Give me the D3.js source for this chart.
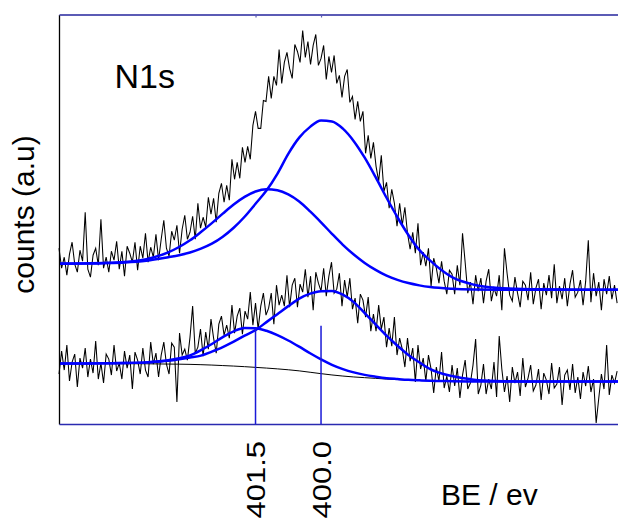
<!DOCTYPE html>
<html><head><meta charset="utf-8">
<script src="https://cdn.jsdelivr.net/npm/d3@7"></script>
<style>body{margin:0;background:#fff}svg{display:block}text{font-family:Arial,"Liberation Sans",sans-serif}</style>
</head><body><svg id="c" width="618" height="520"></svg>
<script>
// ---------- data ----------
const beStart = 406.0, beStep = 0.06;   // measured energy grid of the spectra (eV)
const upperCounts = [176,156,167,149,170,182,160,152,174,163,
 212,155,147,169,176,159,205,156,167,152,
 173,164,183,155,173,148,178,171,162,182,
 154,178,166,191,162,177,167,190,164,185,
 204,176,168,193,184,199,171,195,209,185,
 192,208,185,221,196,207,197,227,210,226,
 202,231,241,222,239,224,265,245,262,246,
 277,262,278,265,299,313,296,296,324,323,
 348,326,348,339,375,341,362,372,356,346,
 380,373,362,394,367,383,360,379,390,359,
 366,379,345,368,352,369,341,349,327,348,
 355,322,328,305,323,303,313,271,289,266,
 282,258,243,269,233,242,216,235,221,198,
 221,199,217,191,175,192,171,201,159,172,
 158,176,138,166,156,141,163,143,130,154,
 150,130,159,139,191,162,131,142,120,149,
 133,146,121,143,155,123,136,128,149,114,
 176,151,129,123,147,131,117,143,139,124,
 152,120,136,145,115,141,129,149,126,160,
 121,138,125,146,118,140,154,127,132,144,
 119,143,184,122,151,128,142,114,145,130,
 148,125,139,121];
const lowerCounts = [50,73,54,79,43,62,70,37,66,56,
 76,47,65,51,83,45,61,41,70,65,
 49,79,53,61,45,73,56,69,35,72,
 64,50,76,54,47,82,60,71,47,69,
 82,60,50,81,77,22,91,69,75,64,
 87,118,71,77,95,68,92,75,105,86,
 71,100,108,89,99,86,119,91,108,116,
 90,113,105,132,99,121,95,118,131,109,
 116,131,100,139,119,129,118,149,117,139,
 146,117,140,132,155,127,148,114,152,141,
 133,156,128,148,162,131,135,151,118,144,
 127,146,115,126,101,130,124,107,127,93,
 110,93,119,95,107,77,96,78,107,69,
 86,75,57,86,63,76,42,79,55,66,
 43,69,55,31,57,43,72,36,48,32,
 59,38,56,26,49,64,35,41,59,85,
 30,39,60,30,45,35,62,27,88,55,
 32,48,22,57,41,52,28,66,37,46,
 59,33,39,55,24,51,44,30,61,36,
 40,57,19,49,54,34,60,31,47,25,
 52,38,58,32,45,1,26,50,35,79,
 29,49,41,53];

// fitted components, read at these binding energies
const curveBE = [406,405.5,405,404.5,404,403.5,403.25,403,402.75,402.5,402.25,402,401.75,401.5,401.25,401,400.75,400.5,400.25,400,399.75,399.5,399.25,399,398.75,398.5,398.25,398,397.75,397.5,397,396.5,396,395,394,393.2];
const upperPeak1 = [160.5,160.6,161.0,162.1,165.1,171.8,177.2,183.9,192.2,201.1,210.6,219.8,227.4,232.8,235.1,234.0,229.8,222.7,212.8,201.9,190.4,179.4,169.7,161.3,154.3,148.5,144.3,141.1,138.8,137.1,135.4,134.7,134.5,134.5,134.5,134.5];
const upperPeak2 = [160.7,160.8,161.2,161.8,163.5,167.0,169.0,171.7,175.5,180.5,187.5,196.5,207.5,220.5,233.7,250.5,270.5,286.7,297.5,303.8,302.9,295.7,283.2,266.6,247.1,226.5,207.0,189.3,174.3,163.5,147.0,139.5,136.4,134.8,134.5,134.5];
const lowerBackground = [60.5,60.5,60.5,60.4,60.3,60.0,59.9,59.7,59.4,59.0,58.5,58.0,57.4,56.7,56.0,55.2,54.3,53.2,51.8,50.4,49.1,48.0,47.1,46.4,45.7,45.0,44.5,44.0,43.6,43.2,42.8,42.6,42.5,42.5,42.5,42.5];
const lowerPeak1 = [60.5,60.5,60.7,61.0,61.7,63.8,65.8,68.7,73.9,80.1,87.0,92.8,96.1,95.8,93.3,89.0,83.6,77.4,70.8,64.7,59.3,55.0,51.7,49.2,47.4,45.9,45.0,44.2,43.7,43.3,42.9,42.6,42.5,42.5,42.5,42.5];
const lowerPeak2 = [60.5,60.5,60.7,61.0,61.7,63.2,64.7,66.5,68.5,72.5,77.0,82.5,88.5,94.0,102.0,110.0,118.0,125.5,130.5,133.0,133.2,129.5,122.0,111.0,99.7,88.5,78.4,69.1,61.8,55.0,48.0,44.4,43.1,42.5,42.5,42.5];

const tickValues = [401.5, 400.0];
const tickLabels = ["401.5", "400.0"];
const markerBE = [401.5, 400.0];
const markerTop = [96, 98.3];

// ---------- drawing ----------
const svg = d3.select("#c");
const x = d3.scaleLinear().domain([406, 393.2]).range([59, 618]);
const y = d3.scaleLinear().domain([0, 410]).range([424, 14.5]);

const spectrum = arr => arr.map((v, i) => ({be: beStart - i * beStep, v}));
const fit = arr => arr.map((v, i) => ({be: curveBE[i], v}));
const rawLine = d3.line().x(d => x(d.be)).y(d => y(d.v));
const smoothLine = d3.line().x(d => x(d.be)).y(d => y(d.v)).curve(d3.curveMonotoneX);

// raw spectra
[upperCounts, lowerCounts].forEach(arr => {
  svg.append("path").datum(spectrum(arr)).attr("d", rawLine)
    .attr("fill", "none").attr("stroke", "#000").attr("stroke-width", 1.05);
});
// background
svg.append("path").datum(fit(lowerBackground)).attr("d", smoothLine)
  .attr("fill", "none").attr("stroke", "#000").attr("stroke-width", 1);
// components
[upperPeak1, upperPeak2, lowerPeak1, lowerPeak2].forEach(arr => {
  svg.append("path").datum(fit(arr)).attr("d", smoothLine)
    .attr("fill", "none").attr("stroke", "#0000ff").attr("stroke-width", 2.5);
});

// axes
const gLeft = svg.append("g").attr("transform", `translate(${x(406)},0)`)
  .call(d3.axisLeft(y).tickValues([]).tickSizeOuter(0));
gLeft.select(".domain").attr("stroke", "#000").attr("stroke-width", 1.3);

const gTop = svg.append("g").attr("transform", `translate(0,${y(410)})`)
  .call(d3.axisTop(x).tickValues(tickValues).tickSize(-3).tickSizeOuter(0).tickFormat(""));
gTop.select(".domain").attr("stroke", "#5b5bb5").attr("stroke-width", 2);
gTop.selectAll(".tick line").attr("stroke", "#5b5bb5").attr("stroke-width", 1.2);

const gBot = svg.append("g").attr("transform", `translate(0,${y(0)})`)
  .call(d3.axisBottom(x).tickValues(tickValues).tickSize(0).tickSizeOuter(0)
        .tickFormat((d, i) => tickLabels[i]));
gBot.select(".domain").attr("stroke", "#2a2ab0").attr("stroke-width", 1.5);
gBot.attr("font-size", 31).attr("font-family", "Arial, 'Liberation Sans', sans-serif");
gBot.selectAll(".tick text")
  .attr("x", 0).attr("y", 0).attr("dy", null)
  .attr("text-anchor", "end").attr("fill", "#000")
  .attr("transform", "translate(9,17) rotate(-90) scale(1,0.84)");

// peak position markers
svg.selectAll("line.marker").data(markerBE).enter().append("line")
  .attr("class", "marker")
  .attr("x1", d => x(d)).attr("x2", d => x(d))
  .attr("y1", y(0)).attr("y2", (d, i) => y(markerTop[i]))
  .attr("stroke", "#1a1ad8").attr("stroke-width", 1.5);

// texts
svg.append("text").attr("x", 114.5).attr("y", 87.7).attr("font-size", 34).text("N1s");
svg.append("text").attr("transform", "translate(34,214.5) rotate(-90)")
  .attr("text-anchor", "middle").attr("font-size", 30).text("counts (a.u)");
svg.append("text").attr("x", 441).attr("y", 505).attr("font-size", 30).text("BE / ev");
</script>
</body></html>
